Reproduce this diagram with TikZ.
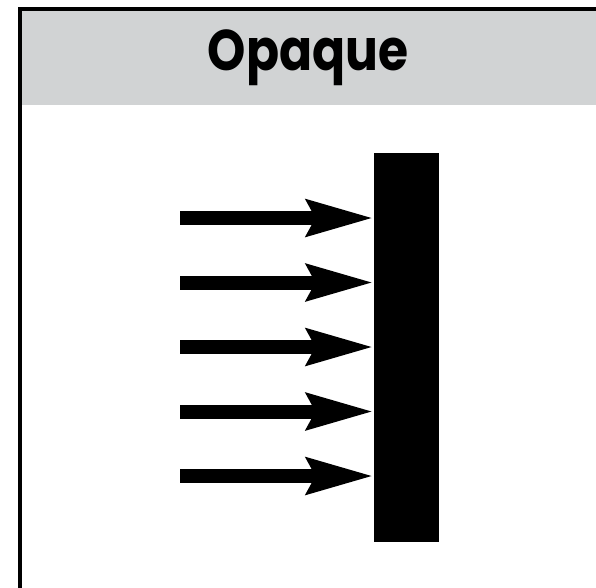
\documentclass[tikz,border=0pt]{standalone}
\usepackage{fontspec}
\newfontfamily\titlefont{Poppins}[UprightFont=* Bold]
\usetikzlibrary{arrows.meta}
\definecolor{headgray}{RGB}{209,211,212}
\tikzset{
  barbox/.style={fill=black, draw=none, inner sep=0pt, minimum width=65*0.75pt, minimum height=389*0.75pt},
  ray/.style={line width=14*0.75pt, -{Stealth[length=66*0.75pt, width=35*0.75pt, inset=8*0.75pt]}},
  frameline/.style={line width=3.6*0.75pt, draw=black},
  titletext/.style={font=\titlefont\fontsize{43}{43}\selectfont, inner sep=0pt, anchor=base}
}
\begin{document}
\begin{tikzpicture}[x=0.75pt, y=-0.75pt]
  \useasboundingbox (0,0) rectangle (596,587);
  \clip (0,0) rectangle (596,587);
  % header band and frame
  \fill[headgray] (19.8,9) rectangle (640,105);
  \draw[frameline] (19.8,640) -- (19.8,9) -- (640,9);
  \node[titletext] (title) at (308,70.5) {\scalebox{0.85}[1]{Opaque}};
  % opaque slab
  \node[barbox] (slab) at (406.5,347.5) {};
  % incoming light rays
  \foreach \i/\yy in {1/218, 2/282.5, 3/347, 4/411.5, 5/476} {
    \coordinate (s\i) at (180,\yy);
    \draw[ray] (s\i) -- (s\i -| slab.west);
  }
\end{tikzpicture}
\end{document}
